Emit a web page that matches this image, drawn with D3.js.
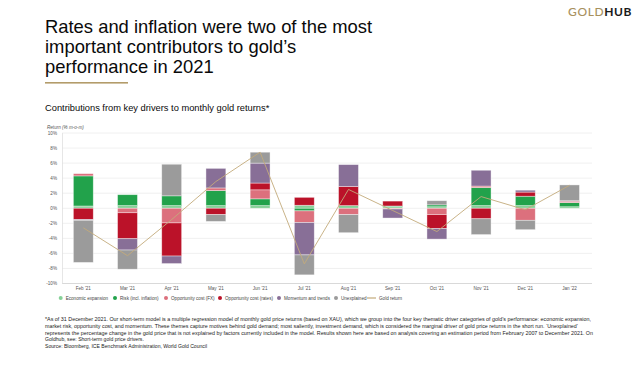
<!DOCTYPE html>
<html><head><meta charset="utf-8">
<script src="https://cdn.jsdelivr.net/npm/d3@7"></script>
<style>
html,body{margin:0;padding:0;background:#fff;}
svg{display:block;font-family:"Liberation Sans",Arial,sans-serif;}
</style></head>
<body>
<svg id="c" width="640" height="366"></svg>
<script>
const months = ["Feb '21","Mar '21","Apr '21","May '21","Jun '21","Jul '21","Aug '21","Sep '21","Oct '21","Nov '21","Dec '21","Jan '22"];
const econExpansion = [0.3, 0.35, 0.35, 0.35, 0.35, 0.4, 0.35, 0.2, 0.2, 0.35, 0.35, 0.2];
const riskInflation = [4.0, 1.45, 1.3, 2.0, 0.9, -0.35, 0, 0.1, 0.25, 2.4, 1.25, 0.55];
const oppCostFX = [0.3, -0.6, -1.95, 0.35, 1.2, -1.55, -0.85, -0.1, -0.85, 0.2, -1.6, 0.1];
const oppCostRates = [-1.5, -3.45, -4.4, -0.85, 0.9, 1.05, 2.55, 0.65, -1.85, -1.4, 0.55, 0.1];
const momentum = [-0.1, -1.5, -1.0, 2.6, 2.65, -4.3, 2.9, -1.2, -1.4, 2.1, 0.25, 0.05];
const unexplained = [-5.6, -2.55, 4.2, -0.9, 1.45, -2.65, -2.4, 0, 0.55, -2.1, -1.25, 2.1];
const goldReturn = [-2.6, -6.3, -1.5, 3.55, 7.45, -7.4, 2.5, -0.3, -3.1, 1.55, -0.2, 3.05];
const yTicks = [10, 8, 6, 4, 2, 0, -2, -4, -6, -8, -10];
const seriesNames = ["Economic expansion","Risk (incl. inflation)","Opportunity cost (FX)","Opportunity cost (rates)","Momentum and trends","Unexplained"];
const seriesColors = ["#86d198","#22a24b","#dc707d","#bb1229","#886f97","#9b9b9b"];
const goldColor = "#c3aa7b";

const seriesArrays = [econExpansion, riskInflation, oppCostFX, oppCostRates, momentum, unexplained];
const keys = seriesNames;
const rows = months.map((m, i) => {
  const r = {month: m};
  keys.forEach((k, j) => r[k] = seriesArrays[j][i]);
  return r;
});

const svg = d3.select("#c");

// Title
const title = svg.append("text").attr("x", 45).attr("font-size", 18.4).attr("fill", "#0a0a0a");
["Rates and inflation were two of the most","important contributors to gold\u2019s","performance in 2021"].forEach((t, i) => {
  title.append("tspan").attr("x", 45).attr("y", 33.3 + i * 19.7).text(t);
});
svg.append("rect").attr("x", 45).attr("y", 82).attr("width", 83).attr("height", 1.6).attr("fill", "#b39c6a");

// Logo
const logo = svg.append("text").attr("x", 632).attr("y", 16.3).attr("text-anchor", "end")
  .attr("font-family", "Lato, 'Open Sans', sans-serif").attr("font-size", 12).attr("letter-spacing", 0.6);
logo.append("tspan").attr("fill", "#a8915e").attr("font-weight", 500).text("GOLD");
logo.append("tspan").attr("fill", "#1a1a1a").attr("font-weight", 700).text("HUB");

// Subtitle
svg.append("text").attr("x", 45).attr("y", 110.5).attr("font-size", 9.3).attr("fill", "#0a0a0a")
  .text("Contributions from key drivers to monthly gold returns*");

// Scales
const x = d3.scaleBand().domain(months).range([61.2, 591.6]).paddingInner(0.55).paddingOuter(0.275);
const y = d3.scaleLinear().domain([-10, 10]).range([283.5, 133]);

// gridlines
svg.append("g").selectAll("line").data(yTicks).join("line")
  .attr("x1", 62).attr("x2", 592).attr("y1", d => y(d)).attr("y2", d => y(d))
  .attr("stroke", d => d === -10 ? "#cfcfcf" : "#ececec").attr("stroke-width", 0.8);
svg.append("line").attr("x1", 62.5).attr("x2", 62.5).attr("y1", y(10)).attr("y2", y(-10))
  .attr("stroke", "#e0e0e0").attr("stroke-width", 0.8);

// y axis labels
const yAxis = d3.axisLeft(y).tickValues(yTicks).tickFormat(d => d + "%").tickSize(0).tickPadding(5);
const ya = svg.append("g").attr("transform", "translate(62,0)").call(yAxis);
ya.select(".domain").remove();
ya.selectAll("text").attr("font-size", 4.6).attr("fill", "#555").attr("font-family", "Liberation Sans, Arial, sans-serif");

svg.append("text").attr("x", 47).attr("y", 128.5).attr("font-size", 4.6).attr("fill", "#555")
  .attr("font-style", "italic").text("Return (% m-o-m)");

// x axis labels
const xAxis = d3.axisBottom(x).tickSize(0).tickPadding(3);
const xa = svg.append("g").attr("transform", `translate(0,${y(-10)})`).call(xAxis);
xa.select(".domain").remove();
xa.selectAll("text").attr("font-size", 4.6).attr("fill", "#555").attr("font-family", "Liberation Sans, Arial, sans-serif");

// stacked bars
const stack = d3.stack().keys(keys).offset(d3.stackOffsetDiverging);
const stacked = stack(rows);
svg.append("g").selectAll("g").data(stacked).join("g")
  .attr("fill", (d, i) => seriesColors[i])
  .selectAll("rect").data(d => d).join("rect")
  .attr("x", d => x(d.data.month))
  .attr("width", x.bandwidth())
  .attr("y", d => y(Math.max(d[0], d[1])))
  .attr("height", d => Math.abs(y(d[0]) - y(d[1])))
  .attr("stroke", "rgba(255,255,255,0.55)").attr("stroke-width", 0.7);

// gold return line
const line = d3.line().x((d, i) => x(months[i]) + x.bandwidth() / 2).y(d => y(d));
svg.append("path").datum(goldReturn).attr("d", line).attr("fill", "none")
  .attr("stroke", goldColor).attr("stroke-width", 0.9);

// legend
const legendX = [60.7, 115, 166, 220, 279, 336];
const ly = 298;
const lg = svg.append("g");
seriesNames.forEach((n, i) => {
  lg.append("circle").attr("cx", legendX[i]).attr("cy", ly).attr("r", 2).attr("fill", seriesColors[i]);
  lg.append("text").attr("x", legendX[i] + 5).attr("y", ly + 1.6).attr("font-size", 4.6).attr("fill", "#444").text(n);
});
lg.append("line").attr("x1", 367).attr("x2", 376).attr("y1", ly).attr("y2", ly).attr("stroke", goldColor).attr("stroke-width", 1.2);
lg.append("text").attr("x", 379).attr("y", ly + 1.6).attr("font-size", 4.6).attr("fill", "#444").text("Gold return");

// footnote
const notes = [
  ["*As of 31 December 2021. Our short-term model is a multiple regression model of monthly gold price returns (based on XAU), which we group into the four key thematic driver categories of gold\u2019s performance: economic expansion,", 546],
  ["market risk, opportunity cost, and momentum. These themes capture motives behind gold demand; most saliently, investment demand, which is considered the marginal driver of gold price returns in the short run. \u2018Unexplained\u2019", 533],
  ["represents the percentage change in the gold price that is not explained by factors currently included in the model. Results shown here are based on analysis covering an estimation period from February 2007 to December 2021. On", 548],
  ["Goldhub, see: Short-term gold price drivers.", 0],
  ["Source: Bloomberg, ICE Benchmark Administration, World Gold Council", 0]
];
notes.forEach((n, i) => {
  const t = svg.append("text").attr("x", 45).attr("y", 321.4 + i * 6.55).attr("font-size", 5.1).attr("fill", "#222").text(n[0]);
  if (n[1]) t.attr("textLength", n[1]).attr("lengthAdjust", "spacingAndGlyphs");
});
</script>
</body></html>
